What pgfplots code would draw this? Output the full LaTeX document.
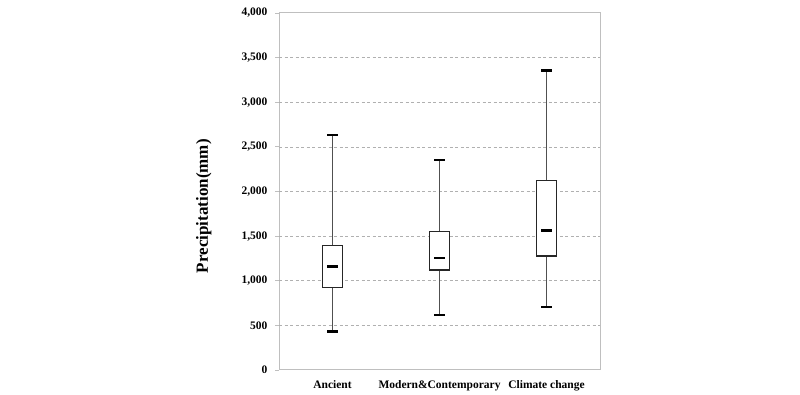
\documentclass[border=0pt]{standalone}
\usepackage{pgfplots}
\pgfplotsset{compat=1.18}
\usepgfplotslibrary{statistics}
\usepackage{fontspec}
\setmainfont{Liberation Serif}
\definecolor{framegray}{HTML}{BFBFBF}
\definecolor{gridgray}{HTML}{B0B0B0}
\definecolor{whiskgray}{HTML}{505050}
\begin{document}
\begin{tikzpicture}[x=1pt,y=1pt]
\path[use as bounding box] (0,0) rectangle (800,395);
\begin{axis}[
  at={(279pt,25pt)}, anchor=south west,
  scale only axis, width=321pt, height=357pt,
  xmin=0.5, xmax=3.5, ymin=0, ymax=4000,
  axis line style={draw=framegray, line width=1pt},
  tick align=outside,
  tick pos=left,
  xtick={1,2,3},
  xticklabels={Ancient, Modern\&Contemporary, Climate change},
  x tick style={draw=none},
  extra x ticks={1.5,2.5},
  extra x tick labels={},
  extra x tick style={major tick length=4pt, tick style={draw=framegray, line width=0.8pt}, grid=none},
  ytick={0,500,...,4000},
  y tick style={draw=framegray, line width=0.8pt},
  major tick length=4pt,
  extra y ticks={500,1000,...,3500},
  extra y tick labels={},
  extra y tick style={grid=major, major tick length=0pt},
  grid style={draw=gridgray, dash pattern=on 3pt off 2.5pt, line width=0.7pt},
  ticklabel style={font=\fontsize{11.5}{13}\selectfont\bfseries},
  x tick label style={yshift=-3pt},
  y tick label style={xshift=-4pt},
  /pgf/number format/1000 sep={,},
  /pgf/number format/assume math mode=true,
  ylabel={Precipitation(mm)},
  ylabel style={font=\fontsize{17}{19}\selectfont\bfseries, at={(axis description cs:-0.1994,0.459)}, anchor=south},
  boxplot/draw direction=y,
  boxplot/box extend=0.19,
  boxplot/whisker extend=0.098,
  boxplot/every box/.style={draw=black!85, fill=white, line width=1.2pt},
  boxplot/draw/median/.code={%
    \draw[black, line width=2.6pt]
      (boxplot whisker cs:\pgfplotsboxplotvalue{median},0) --
      (boxplot whisker cs:\pgfplotsboxplotvalue{median},1);
  },
  boxplot/draw/lower whisker/.code={%
    \draw[whiskgray, line width=1.4pt]
      (boxplot cs:\pgfplotsboxplotvalue{lower quartile}) --
      (boxplot cs:\pgfplotsboxplotvalue{lower whisker});
    \draw[black, line width=2.6pt]
      (boxplot whisker cs:\pgfplotsboxplotvalue{lower whisker},0) --
      (boxplot whisker cs:\pgfplotsboxplotvalue{lower whisker},1);
  },
  boxplot/draw/upper whisker/.code={%
    \draw[whiskgray, line width=1.4pt]
      (boxplot cs:\pgfplotsboxplotvalue{upper quartile}) --
      (boxplot cs:\pgfplotsboxplotvalue{upper whisker});
    \draw[black, line width=2.6pt]
      (boxplot whisker cs:\pgfplotsboxplotvalue{upper whisker},0) --
      (boxplot whisker cs:\pgfplotsboxplotvalue{upper whisker},1);
  },
]
\addplot+[black, boxplot prepared={draw position=1,
  lower whisker=430, lower quartile=920, median=1158,
  upper quartile=1397, upper whisker=2633}] coordinates {};
\addplot+[black, boxplot prepared={draw position=2,
  lower whisker=616, lower quartile=1120, median=1255,
  upper quartile=1550, upper whisker=2353}] coordinates {};
\addplot+[black, boxplot prepared={draw position=3,
  lower whisker=706, lower quartile=1277, median=1561,
  upper quartile=2125, upper whisker=3354}] coordinates {};
\end{axis}
\end{tikzpicture}
\end{document}
